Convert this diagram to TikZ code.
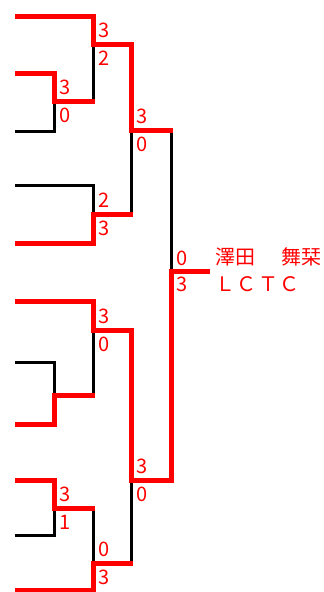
\documentclass[tikz,border=0pt]{standalone}
\usepackage{fontspec}
\setmainfont{Noto Sans CJK JP}

\begin{document}
\begin{tikzpicture}[x=1pt, y=-1pt, line width=3pt,
	win/.style={red, line width=5pt},
	score/.style={red, anchor=base west, inner sep=0pt, font=\fontsize{20}{20}\selectfont},
	entry/.style={red, anchor=base west, inner sep=0pt, font=\fontsize{20}{20}\selectfont}]
	\useasboundingbox (0,0) rectangle (324,592);

	% lost
	\draw (15,131) -| (54,101);
	\draw (93,101) -- (93,44);
	\draw (15,185) -| (93,214);
	\draw (131,214) -- (131,130);
	\draw (171,130) -- (171,271);
	\draw (15,362) -| (54,395);
	\draw (93,395) -- (93,330);
	\draw (15,535) -| (54,508);
	\draw (93,508) -- (93,563);
	\draw (131,563) -- (131,480);

	% won
	\draw[win] (15,16) -| (93,44) -| (131,130) -- (172.5,130);
	\draw[win] (15,73) -| (54,101) -- (94.5,101);
	\draw[win] (15,243) -| (93,214) -- (132.5,214);
	\draw[win] (15,301) -| (93,330) -| (131,480) -| (171,271) -- (210,271);
	\draw[win] (15,424) -| (54,395) -- (94.5,395);
	\draw[win] (15,480) -| (54,508) -- (94.5,508);
	\draw[win] (15,590) -| (93,563) -- (132.5,563);

	\node[score] (aT) at (58,94.5) {3};   \node[score] (aB) at (58,122) {0};
	\node[score] (AT) at (97,37.5) {3};   \node[score] (AB) at (97,65) {2};
	\node[score] (BT) at (97,207.5) {2};  \node[score] (BB) at (97,235) {3};
	\node[score] (CT) at (135,123.5) {3}; \node[score] (CB) at (135,151) {0};
	\node[score] (DT) at (97,323.5) {3};  \node[score] (DB) at (97,351) {0};
	\node[score] (eT) at (58,501.5) {3};  \node[score] (eB) at (58,529) {1};
	\node[score] (ET) at (97,556.5) {0};  \node[score] (EB) at (97,584) {3};
	\node[score] (FT) at (135,473.5) {3}; \node[score] (FB) at (135,501) {0};
	\node[score] (fT) at (175,265) {0};   \node[score] (fB) at (175,291) {3};

	\node[entry] (player) at (213.5,264.5) {澤田　\hspace{6pt}舞栞};
	\node[entry] (club) at (213.5,291) {\addfontfeature{LetterSpace=8}ＬＣＴＣ};
\end{tikzpicture}
\end{document}
